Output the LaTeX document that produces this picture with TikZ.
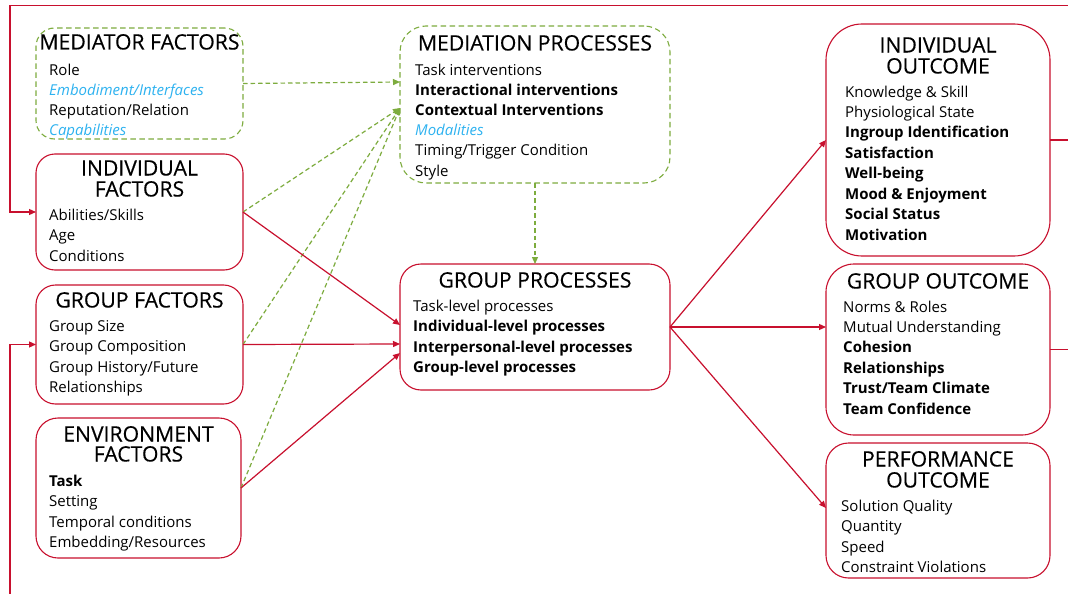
\documentclass[tikz,border=0pt]{standalone}
\usepackage{fontspec}
\setmainfont{Open Sans}
\newfontfamily\ttlfamily[FakeBold=0.35]{Open Sans}
\usetikzlibrary{arrows.meta,calc}
\definecolor{cred}{RGB}{200,16,46}
\definecolor{cgreen}{RGB}{125,172,62}
\definecolor{cblue}{RGB}{45,178,240}
\newcommand\ttlfont{\ttlfamily\fontsize{21.2}{22}\selectfont}
\newcommand\itmfont{\fontsize{15}{20.5}\selectfont}
\newcommand\hl[1]{{\color{cblue}\itshape #1}}
\tikzset{
  rbox/.style={draw=cred, line width=1.1pt, outer sep=0pt, inner sep=0pt, fill=none},
  gbox/.style={draw=cgreen, line width=1.1pt, dash pattern=on 5.5pt off 3.5pt, outer sep=0pt, inner sep=0pt},
  ttl/.style={font=\ttlfont, inner sep=0pt, anchor=base},
  itm/.style={font=\itmfont, inner sep=0pt, anchor=base west},
  rarr/.style={draw=cred, line width=1.2pt, -{Triangle[length=7pt,width=6pt]}},
  garr/.style={draw=cgreen, line width=1.2pt, dash pattern=on 4.5pt off 3pt, -{Triangle[length=7pt,width=6pt]}}
}
\begin{document}
\begin{tikzpicture}[x=1pt,y=-1pt]
\useasboundingbox (0,0) rectangle (1068,594);
\clip (0,0) rectangle (1068,594);
\fill[white] (0,0) rectangle (1068,594);

% ---- boxes ----
\node[gbox, minimum width=207pt, minimum height=111pt, rounded corners=18.5pt] (medf) at (139.5,83.5) {};
\node[rbox, minimum width=207pt, minimum height=116pt, rounded corners=19pt] (indf) at (139.5,212) {};
\node[rbox, minimum width=207pt, minimum height=119pt, rounded corners=19.5pt] (grpf) at (139.5,344.5) {};
\node[rbox, minimum width=205pt, minimum height=140pt, rounded corners=22pt] (envf) at (138.5,488) {};
\node[gbox, minimum width=270pt, minimum height=157pt, rounded corners=26pt] (medp) at (535,104.5) {};
\node[rbox, minimum width=270pt, minimum height=126pt, rounded corners=21pt] (grpp) at (535,327) {};
\node[rbox, minimum width=224pt, minimum height=232pt, rounded corners=36pt] (ioutc) at (938,140) {};
\node[rbox, minimum width=224pt, minimum height=171pt, rounded corners=28pt] (goutc) at (938,349.5) {};
\node[rbox, minimum width=224pt, minimum height=135pt, rounded corners=22.5pt] (poutc) at (938,510.5) {};

% ---- titles ----
\node[ttl] (medf-t) at (139.5,49.5) {MEDIATOR FACTORS};
\node[ttl] (indf-t1) at (139.5,175.5) {INDIVIDUAL};
\node[ttl] (indf-t2) at (139.5,196.5) {FACTORS};
\node[ttl] (grpf-t) at (139.5,307.5) {GROUP FACTORS};
\node[ttl] (envf-t1) at (138.5,441.5) {ENVIRONMENT};
\node[ttl] (envf-t2) at (138.5,461.5) {FACTORS};
\node[ttl] (medp-t) at (535,50.5) {MEDIATION PROCESSES};
\node[ttl] (grpp-t) at (535,287.5) {GROUP PROCESSES};
\node[ttl] (ioutc-t1) at (938,52.5) {INDIVIDUAL};
\node[ttl] (ioutc-t2) at (938,73.5) {OUTCOME};
\node[ttl] (goutc-t) at (938,288.5) {GROUP OUTCOME};
\node[ttl] (poutc-t1) at (938,466.5) {PERFORMANCE};
\node[ttl] (poutc-t2) at (938,487.5) {OUTCOME};

% ---- items ----
\foreach \t [count=\i] in {Role,{\hl{Embodiment/Interfaces}},Reputation/Relation,{\hl{Capabilities}}}
  \node[itm] (medf-\i) at (49,75+20.2*\i-20.2) {\t};
\foreach \t [count=\i] in {Abilities/Skills,Age,Conditions}
  \node[itm] (indf-\i) at (49,220+20.5*\i-20.5) {\t};
\foreach \t [count=\i] in {Group Size,Group Composition,Group History/Future,Relationships}
  \node[itm] (grpf-\i) at (49,331+20.6*\i-20.6) {\t};
\foreach \t [count=\i] in {{\bfseries Task},Setting,Temporal conditions,Embedding/Resources}
  \node[itm] (envf-\i) at (49,486+20.6*\i-20.6) {\t};
\foreach \t [count=\i] in {Task interventions,{\bfseries Interactional interventions},{\bfseries Contextual Interventions},{\hl{Modalities}},Timing/Trigger Condition,Style}
  \node[itm] (medp-\i) at (415,75+20.2*\i-20.2) {\t};
\foreach \t [count=\i] in {Task-level processes,{\bfseries Individual-level processes},{\bfseries Interpersonal-level processes},{\bfseries Group-level processes}}
  \node[itm] (grpp-\i) at (413,311+20.6*\i-20.6) {\t};
\foreach \t [count=\i] in {Knowledge \& Skill,Physiological State,{\bfseries Ingroup Identification},{\bfseries Satisfaction},{\bfseries Well-being},{\bfseries Mood \& Enjoyment},{\bfseries Social Status},{\bfseries Motivation}}
  \node[itm] (ioutc-\i) at (845,97+20.45*\i-20.45) {\t};
\foreach \t [count=\i] in {Norms \& Roles,Mutual Understanding,{\bfseries Cohesion},{\bfseries Relationships},{\bfseries Trust/Team Climate},{\bfseries Team Confidence}}
  \node[itm] (goutc-\i) at (843,312+20.4*\i-20.4) {\t};
\foreach \t [count=\i] in {Solution Quality,Quantity,Speed,Constraint Violations}
  \node[itm] (poutc-\i) at (841,511+20.6*\i-20.6) {\t};

% ---- green dashed connectors ----
\draw[garr] (medf.east) -- ([yshift=22.5pt]medp.west);
\draw[garr] (indf.east) -- ([yshift=-3.5pt]medp.west);
\draw[garr] (grpf.east) -- ([yshift=-3.5pt]medp.west);
\draw[garr] (envf.east) -- ([yshift=-3.5pt]medp.west);
\draw[garr] (medp.south) -- (grpp.north);

% ---- red connectors ----
\draw[rarr] (indf.east) -- ([yshift=2pt]grpp.west);
\draw[rarr] (grpf.east) -- ([yshift=-17pt]grpp.west);
\draw[rarr] (envf.east) -- ([yshift=-26pt]grpp.west);
\draw[rarr] (grpp.east) -- (ioutc.west);
\draw[rarr] (grpp.east) -- ([yshift=22.5pt]goutc.west);
\draw[rarr] (grpp.east) -- ([yshift=2.5pt]poutc.west);

% ---- feedback loops ----
\draw[rarr] (ioutc.east) -- ++(30,0) |- (10,5.5) |- (indf.west);
\draw[rarr] (goutc.east) -- ++(30,0) |- (10,620) |- (grpf.west);
\end{tikzpicture}
\end{document}
